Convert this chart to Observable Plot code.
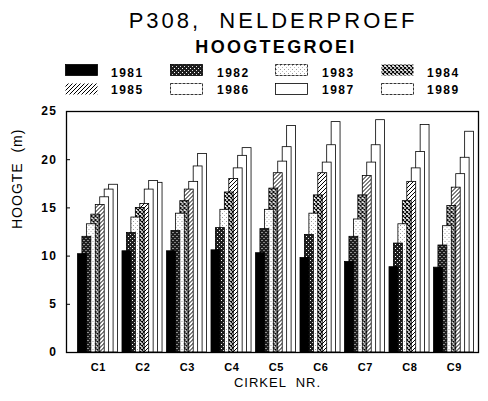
<!DOCTYPE html>
<html>
<head>
<meta charset="utf-8">
<script src="https://cdn.jsdelivr.net/npm/d3@7"></script>
<script src="https://cdn.jsdelivr.net/npm/@observablehq/plot@0.6"></script>
<style>
  body { margin: 0; background: #fff; font-family: "Liberation Sans", Arial, Helvetica, sans-serif; color: #000; }
  #wrap { position: relative; width: 488px; height: 401px; overflow: hidden; background: #fff; }
  #title { position: absolute; left: 0; width: 546px; top: 10px; text-align: center; font-size: 22px; line-height: 22px; letter-spacing: 3px; white-space: pre; }
  #subtitle { position: absolute; left: 0; width: 552px; top: 38px; text-align: center; font-size: 18px; line-height: 18px; font-weight: bold; letter-spacing: 2.3px; }
  .sw { position: absolute; width: 33px; height: 12px; }
  .lab { position: absolute; font-size: 12px; line-height: 12px; font-weight: bold; letter-spacing: 1.5px; }
  #chart, #overlay { position: absolute; left: 0; top: 100px; width: 488px; height: 301px; }
  #overlay { pointer-events: none; }
  #overlay g[aria-label="y-axis tick label"] text { font-weight: bold; letter-spacing: 1.5px; }
  #chart g[aria-label="fx-axis tick label"] text { font-weight: bold; letter-spacing: 0.5px; }
  .axtitle text { letter-spacing: 1px; white-space: pre; }
</style>
</head>
<body>
<svg width="0" height="0" style="position:absolute">
  <defs>
    <pattern id="p1982" width="4" height="4" patternUnits="userSpaceOnUse">
      <rect width="4" height="4" fill="#1e1e1e"/>
      <rect x="0" y="0" width="1" height="1" fill="#fff"/>
      <rect x="2" y="2" width="1" height="1" fill="#ddd"/>
    </pattern>
    <pattern id="p1983" width="4" height="4" patternUnits="userSpaceOnUse">
      <rect width="4" height="4" fill="#fff"/>
      <rect x="1" y="1" width="1" height="1" fill="#999"/>
      <rect x="3" y="3" width="1" height="1" fill="#bbb"/>
    </pattern>
    <pattern id="p1984" width="4" height="4" patternUnits="userSpaceOnUse">
      <rect width="4" height="4" fill="#fff"/>
      <path d="M0,0L4,4M4,0L0,4" stroke="#000" stroke-width="1.1"/>
    </pattern>
    <pattern id="p1985" width="4" height="4" patternUnits="userSpaceOnUse">
      <rect width="4" height="4" fill="#fff"/>
      <path d="M-1,1L1,-1M0,4L4,0M3,5L5,3" stroke="#000" stroke-width="1"/>
    </pattern>
  </defs>
</svg>
<div id="wrap">
  <div id="title">P308,  NELDERPROEF</div>
  <div id="subtitle">HOOGTEGROEI</div>
  <div id="legend"></div>
  <div id="chart"></div>
  <div id="overlay"></div>
</div>
<script>
// ---- data ----
const cirkels = ["C1", "C2", "C3", "C4", "C5", "C6", "C7", "C8", "C9"];
const years = [1981, 1982, 1983, 1984, 1985, 1986, 1987, 1989];
const h1981 = [10.2, 10.5, 10.5, 10.6, 10.3, 9.8, 9.4, 8.85, 8.8];
const h1982 = [12.0, 12.4, 12.6, 12.9, 12.8, 12.2, 12.0, 11.3, 11.1];
const h1983 = [13.3, 14.0, 14.4, 14.8, 14.8, 14.4, 13.8, 13.3, 13.1];
const h1984 = [14.3, 15.0, 15.7, 16.6, 17.0, 16.3, 16.3, 15.7, 15.2];
const h1985 = [15.3, 15.4, 16.9, 18.0, 18.6, 18.6, 18.3, 17.7, 17.1];
const h1986 = [16.1, 16.9, 17.7, 19.1, 19.8, 19.7, 19.7, 19.1, 18.5];
const h1987 = [16.9, 17.8, 19.3, 20.4, 21.3, 21.5, 21.5, 20.8, 20.2];
const h1989 = [17.4, 17.6, 20.6, 21.2, 23.5, 23.9, 24.1, 23.6, 22.9];
const yTicks = [0, 5, 10, 15, 20, 25];

const series = [h1981, h1982, h1983, h1984, h1985, h1986, h1987, h1989];
const fills = ["#000", "url(#p1982)", "url(#p1983)", "url(#p1984)", "url(#p1985)", "#fff", "#fff", "#fff"];

const rows = [];
years.forEach((yr, k) => series[k].forEach((v, i) => rows.push({cirkel: cirkels[i], year: yr, slot: k, value: v})));
rows.sort((a, b) => b.slot - a.slot); // earlier years drawn in front

const font = '"Liberation Sans", Arial, Helvetica, sans-serif';

// ---- legend ----
const legCols = [{s: 65, t: 111}, {s: 170, t: 217}, {s: 275, t: 322}, {s: 381, t: 427}];
const legRows = [{s: 64, t: 66.6}, {s: 83, t: 84}];
const legend = document.getElementById("legend");
years.forEach((yr, k) => {
  const c = legCols[k % 4], r = legRows[Math.floor(k / 4)];
  const sw = document.createElementNS("http://www.w3.org/2000/svg", "svg");
  sw.setAttribute("class", "sw");
  sw.style.left = c.s + "px"; sw.style.top = r.s + "px";
  sw.setAttribute("width", 33); sw.setAttribute("height", 12);
  const rect = document.createElementNS("http://www.w3.org/2000/svg", "rect");
  rect.setAttribute("x", 0.5); rect.setAttribute("y", 0.5);
  rect.setAttribute("width", 32); rect.setAttribute("height", 11);
  rect.setAttribute("fill", fills[k]);
  rect.setAttribute("stroke", k === 3 || k === 4 ? "none" : "#000");
  rect.setAttribute("stroke-width", 0.8);
  if (k >= 5 || k === 2) rect.setAttribute("stroke-dasharray", k === 6 ? "none" : "3,1");
  sw.appendChild(rect);
  legend.appendChild(sw);
  const lab = document.createElement("div");
  lab.className = "lab";
  lab.style.left = c.t + "px"; lab.style.top = r.t + "px";
  lab.textContent = yr;
  legend.appendChild(lab);
});

// ---- bars (faceted by cirkel) ----
const dims = {width: 488, height: 301, marginLeft: 66, marginRight: 10, marginTop: 11, marginBottom: 49};

const chart = Plot.plot({
  ...dims,
  style: {fontFamily: font, background: "white", color: "black"},
  fx: {domain: cirkels, paddingInner: 0, paddingOuter: 0.129, align: 1, round: false},
  x: {domain: [0, 10], axis: null},
  y: {domain: [0, 25], axis: null},
  color: {type: "ordinal", domain: years, range: fills},
  marks: [
    Plot.rect(rows, {fx: "cirkel", x1: "slot", x2: d => d.slot + 2, y1: 0, y2: "value", fill: "year", stroke: "black", strokeWidth: 0.8}),
    Plot.axisFx({anchor: "bottom", tickSize: 0, tickPadding: 11, fontSize: 11, fontWeight: "bold", dx: -2, label: null})
  ]
});
document.getElementById("chart").appendChild(chart);

// ---- frame, y axis and axis titles ----
const overlay = Plot.plot({
  ...dims,
  style: {fontFamily: font, background: "transparent", color: "black"},
  y: {domain: [0, 25]},
  marks: [
    Plot.frame({stroke: "black", strokeWidth: 1.3}),
    Plot.axisY(yTicks, {tickSize: 4, dx: 4, fill: "none", label: null}),
    Plot.axisY(yTicks, {tickSize: 0, tickPadding: 9, fontSize: 12, fontWeight: "bold", label: null}),
    Plot.text(["HOOGTE  (m)"], {text: d => d, frameAnchor: "left", rotate: -90, dx: -49, dy: -3, fontSize: 14, className: "axtitle"}),
    Plot.text(["CIRKEL  NR."], {text: d => d, frameAnchor: "bottom", dy: 34, dx: 5, fontSize: 13, className: "axtitle"})
  ]
});
document.getElementById("overlay").appendChild(overlay);
</script>
</body>
</html>
